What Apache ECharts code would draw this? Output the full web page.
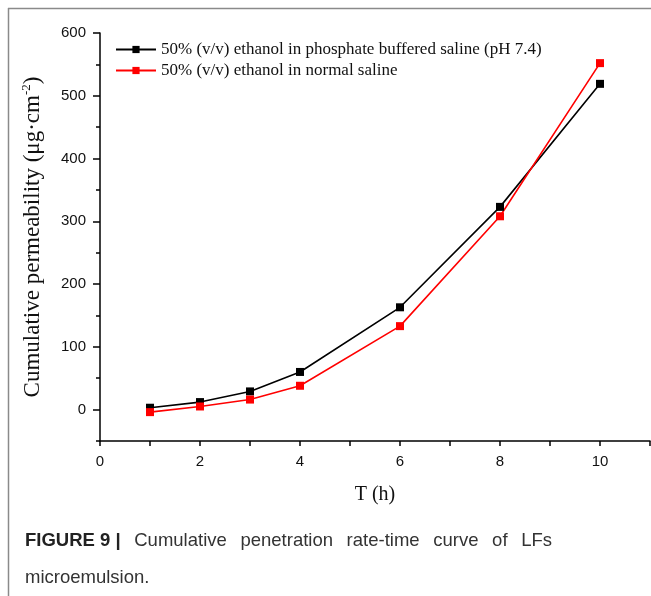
<!DOCTYPE html>
<html>
<head>
<meta charset="utf-8">
<script src="https://cdn.jsdelivr.net/npm/echarts@6/dist/echarts.min.js"></script>
<style>html,body{margin:0;padding:0;background:#fff;}#c{width:651px;height:596px;}</style>
</head>
<body>
<div id="c"></div>
<script>
var hours = [1, 2, 3, 4, 6, 8, 10];
var pbsValues = [3, 12, 29, 60, 163, 323, 519];
var salineValues = [-4, 5, 16, 38, 133, 308, 552];
var seriesNames = ['50% (v/v) ethanol in phosphate buffered saline (pH 7.4)', '50% (v/v) ethanol in normal saline'];
var xTickLabels = [0, 2, 4, 6, 8, 10];
var yTickLabels = [0, 100, 200, 300, 400, 500, 600];
var yMinorTicks = [-50, 50, 150, 250, 350, 450, 550];
var xTicks = [0, 1, 2, 3, 4, 5, 6, 7, 8, 9, 10, 11];
var captionBold = 'FIGURE 9 |';
var captionWords = ['Cumulative', 'penetration', 'rate-time', 'curve', 'of', 'LFs'];
var captionLine2 = 'microemulsion.';

function pairs(xs, ys) { return xs.map(function (x, i) { return [x, ys[i]]; }); }

// justified caption line (text layout only)
var capFont = 18.5;
var capLeft = 25, capRight = 552, capY1 = 531, capY2 = 568;
var mctx = document.createElement('canvas').getContext('2d');
function measure(t, bold) {
  mctx.font = (bold ? 'bold ' : '') + capFont + 'px "Liberation Sans"';
  return mctx.measureText(t).width;
}
var words = [{t: captionBold, b: true}].concat(captionWords.map(function (w) { return {t: w, b: false}; }));
var totalW = words.reduce(function (s, w) { return s + measure(w.t, w.b); }, 0);
var gap = (capRight - capLeft - totalW) / (words.length - 1);
var capGraphics = [];
var cx = capLeft;
words.forEach(function (w) {
  capGraphics.push({type: 'text', x: cx, y: capY1, style: {
    text: w.t, fontFamily: 'Liberation Sans', fontWeight: w.b ? 'bold' : 'normal',
    fontSize: capFont, fill: w.b ? '#222' : '#333'
  }});
  cx += measure(w.t, w.b) + gap;
});
capGraphics.push({type: 'text', x: capLeft, y: capY2, style: {
  text: captionLine2, fontFamily: 'Liberation Sans', fontSize: capFont, fill: '#333'
}});

var chart = echarts.init(document.getElementById('c'), null, {renderer: 'canvas'});
var axisLineStyle = {color: '#000', width: 1.5};
chart.setOption({
  animation: false,
  backgroundColor: '#fff',
  grid: {left: 100, right: 1, top: 33, bottom: 155, containLabel: false},
  legend: {
    left: 110, top: 36, orient: 'vertical', itemGap: 4, itemWidth: 40, itemHeight: 9,
    textStyle: {fontFamily: 'Liberation Serif', fontSize: 17, color: '#111', padding: [0, 0, 0, 0]},
    data: [seriesNames[0], seriesNames[1]]
  },
  xAxis: [{
    type: 'value', min: 0, max: 11, interval: 1,
    name: 'T (h)', nameLocation: 'middle', nameGap: 44,
    nameTextStyle: {fontFamily: 'Liberation Serif', fontSize: 20, color: '#111'},
    axisLine: {show: true, lineStyle: axisLineStyle, onZero: false},
    axisTick: {show: true, length: 5, lineStyle: {color: '#000', width: 1.5}, customValues: xTicks},
    axisLabel: {customValues: xTickLabels, fontFamily: 'Liberation Sans', fontSize: 15, color: '#111', margin: 13},
    splitLine: {show: false}
  }],
  yAxis: [{
    type: 'value', min: -50, max: 600, interval: 50,
    name: '{a|Cumulative permeability (μg·cm}{s|-2}{a|)}', nameLocation: 'middle', nameGap: 55,
    nameTextStyle: {rich: {
      a: {fontFamily: 'Liberation Serif', fontSize: 23, color: '#111'},
      s: {fontFamily: 'Liberation Serif', fontSize: 13, color: '#111', verticalAlign: 'top', padding: [0, 0, 12, 0]}
    }},
    axisLine: {show: true, lineStyle: axisLineStyle, onZero: false},
    axisTick: {show: true, length: 7, lineStyle: {color: '#000', width: 1.5}, customValues: yTickLabels},
    axisLabel: {customValues: yTickLabels, fontFamily: 'Liberation Sans', fontSize: 15, color: '#111', margin: 14},
    splitLine: {show: false}
  }, {
    type: 'value', min: -50, max: 600, interval: 50, position: 'left',
    axisLine: {show: false},
    axisTick: {show: true, length: 4, lineStyle: {color: '#000', width: 1.5}, customValues: yMinorTicks},
    axisLabel: {show: false},
    splitLine: {show: false}
  }],
  series: [{
    name: seriesNames[0], type: 'line', data: pairs(hours, pbsValues),
    symbol: 'rect', symbolSize: 8, color: '#000',
    lineStyle: {color: '#000', width: 1.6}, itemStyle: {color: '#000'}
  }, {
    name: seriesNames[1], type: 'line', data: pairs(hours, salineValues),
    symbol: 'rect', symbolSize: 8, color: '#ff0000',
    lineStyle: {color: '#ff0000', width: 1.6}, itemStyle: {color: '#ff0000'}
  }],
  graphic: [
    {type: 'line', shape: {x1: 8, y1: 8.5, x2: 651, y2: 8.5}, style: {stroke: '#8a8a8a', lineWidth: 1.5}},
    {type: 'line', shape: {x1: 8.5, y1: 8, x2: 8.5, y2: 596}, style: {stroke: '#8a8a8a', lineWidth: 1.5}}
  ].concat(capGraphics)
});
</script>
</body>
</html>
